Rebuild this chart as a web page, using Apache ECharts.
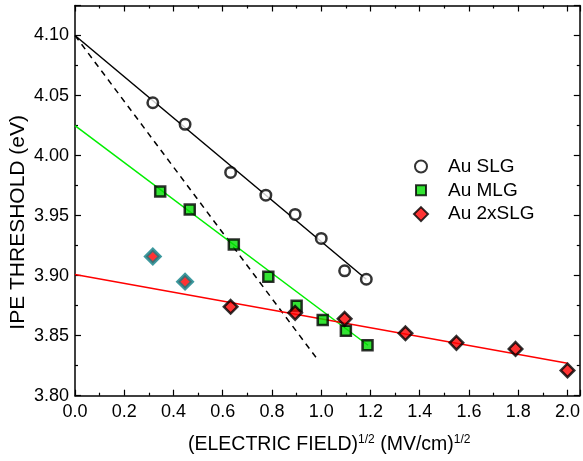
<!DOCTYPE html>
<html><head><meta charset="utf-8">
<script src="https://cdn.jsdelivr.net/npm/echarts@6/dist/echarts.min.js"></script>
<style>html,body{margin:0;padding:0;background:#fff}#c{width:583px;height:461px}</style>
</head><body><div id="c"></div>
<script>
// Data
const slgX = [0.316, 0.447, 0.632, 0.775, 0.894, 1.000, 1.095, 1.183];
const slgY = [4.044, 4.026, 3.986, 3.967, 3.951, 3.931, 3.904, 3.897];
const mlgX = [0.346, 0.466, 0.645, 0.785, 0.900, 1.006, 1.100, 1.188];
const mlgY = [3.970, 3.955, 3.926, 3.899, 3.875, 3.863, 3.854, 3.842];
const dslgX = [0.632, 0.894, 1.095, 1.342, 1.549, 1.789, 2.000];
const dslgY = [3.874, 3.869, 3.864, 3.852, 3.844, 3.839, 3.821];
const dslgOutX = [0.316, 0.447];
const dslgOutY = [3.916, 3.895];
// Fit lines (endpoints)
const slgFitX = [0.0, 1.183];
const slgFitY = [4.100, 3.897];
const mlgFitX = [0.0, 1.190];
const mlgFitY = [4.025, 3.842];
const dslgFitX = [0.0, 2.000];
const dslgFitY = [3.901, 3.827];
const dashFitX = [0.0, 0.982];
const dashFitY = [4.100, 3.831];
const legendNames = ['Au SLG', 'Au MLG', 'Au 2xSLG'];
const xTicks = {min: 0, max: 2.05, interval: 0.2};
const yTicks = {min: 3.8, max: 4.125, interval: 0.05};

const zip = (xs, ys) => xs.map((x, i) => [x, ys[i]]);
const FONT = 'Liberation Sans, Arial, sans-serif';

// legend icons: 44x17 box (corner anchors), shape centred at x=22
const ICON_CIRCLE = 'path://M0,0L0,0M44,17L44,17M28,8.5A6,6,0,1,1,16,8.5A6,6,0,1,1,28,8.5Z';
const ICON_RECT = 'path://M0,0L0,0M44,17L44,17M17,3.5L27,3.5L27,13.5L17,13.5Z';
const ICON_DIAMOND = 'path://M0,0L0,0M44,17L44,17M22,1.5L29,8.5L22,15.5L15,8.5Z';

const chart = echarts.init(document.getElementById('c'), null, {renderer: 'canvas'});
const axisCommon = {
  axisLine: {show: true, onZero: false, lineStyle: {color: '#000', width: 1.5}},
  axisTick: {show: true, inside: true, length: 6, lineStyle: {color: '#000', width: 1.2}},
  minorTick: {show: true, splitNumber: 2, length: 3, lineStyle: {color: '#000', width: 1.2}},
  splitLine: {show: false},
};
const option = {
  animation: false,
  grid: {left: 75, right: 2.5, top: 5.5, bottom: 65.3, containLabel: false},
  legend: {
    orient: 'vertical', left: 398, top: 157, padding: 0, itemWidth: 44, itemHeight: 17, itemGap: 4.8,
    textStyle: {fontFamily: FONT, fontSize: 19, color: '#000'},
    data: [
      {name: legendNames[0], icon: ICON_CIRCLE},
      {name: legendNames[1], icon: ICON_RECT},
      {name: legendNames[2], icon: ICON_DIAMOND}
    ]
  },
  xAxis: [
    Object.assign({type: 'value', min: xTicks.min, max: xTicks.max, interval: xTicks.interval, position: 'bottom',
      axisLabel: {show: true, showMaxLabel: false, color: '#000', fontFamily: FONT, fontSize: 18, margin: 7,
        formatter: v => v.toFixed(1)}}, axisCommon),
    Object.assign({type: 'value', min: xTicks.min, max: xTicks.max, interval: xTicks.interval, position: 'top',
      axisLabel: {show: false}}, axisCommon)
  ],
  yAxis: [
    Object.assign({type: 'value', min: yTicks.min, max: yTicks.max, interval: yTicks.interval, position: 'left',
      axisLabel: {show: true, showMaxLabel: false, color: '#000', fontFamily: FONT, fontSize: 18, margin: 6,
        formatter: v => v.toFixed(2)}}, axisCommon),
    Object.assign({type: 'value', min: yTicks.min, max: yTicks.max, interval: yTicks.interval, position: 'right',
      axisLabel: {show: false}}, axisCommon)
  ],
  graphic: [
    {type: 'text', left: 8, top: 115, rotation: Math.PI / 2,
      style: {text: 'IPE THRESHOLD (eV)', fontFamily: FONT, fontSize: 21, fill: '#000'}},
    {type: 'text', style: {
      text: '(ELECTRIC FIELD){s|1/2} (MV/cm){s|1/2}', fontFamily: FONT, fontSize: 19.5, fill: '#000',
      rich: {s: {fontSize: 12, fontFamily: FONT, fill: '#000', verticalAlign: 'top', padding: [0, 0, 10, 0]}}
    }, x: 188, y: 434}
  ],
  series: [
    {type: 'line', data: zip(dashFitX, dashFitY), symbol: 'none', silent: true, z: 1,
      lineStyle: {color: '#000', width: 1.5, type: [6, 5]}},
    {type: 'line', data: zip(slgFitX, slgFitY), symbol: 'none', silent: true, z: 1,
      lineStyle: {color: '#000', width: 1.5}},
    {type: 'line', data: zip(mlgFitX, mlgFitY), symbol: 'none', silent: true, z: 1,
      lineStyle: {color: '#00ee00', width: 1.5}},
    {type: 'line', data: zip(dslgFitX, dslgFitY), symbol: 'none', silent: true, z: 1,
      lineStyle: {color: '#ff0000', width: 1.5}},
    {name: legendNames[0], type: 'scatter', data: zip(slgX, slgY), symbol: 'circle', symbolSize: 10.5, z: 3,
      itemStyle: {color: '#fff', borderColor: '#000', borderWidth: 2.5}},
    {name: legendNames[1], type: 'scatter', data: zip(mlgX, mlgY), symbol: 'rect', symbolSize: 10, z: 3,
      itemStyle: {color: '#00dd00', borderColor: '#000', borderWidth: 2.5}},
    {name: legendNames[2], type: 'scatter', data: zip(dslgX, dslgY), symbol: 'diamond', symbolSize: 13.5, z: 4,
      itemStyle: {color: '#ff0000', borderColor: '#000', borderWidth: 2.5}},
    {name: 'outliers', type: 'scatter', data: zip(dslgOutX, dslgOutY), symbol: 'diamond', symbolSize: 14, z: 4,
      itemStyle: {color: '#ff0000', borderColor: '#0b7f86', borderWidth: 3.5}}
  ]
};
chart.setOption(option);
</script></body></html>
